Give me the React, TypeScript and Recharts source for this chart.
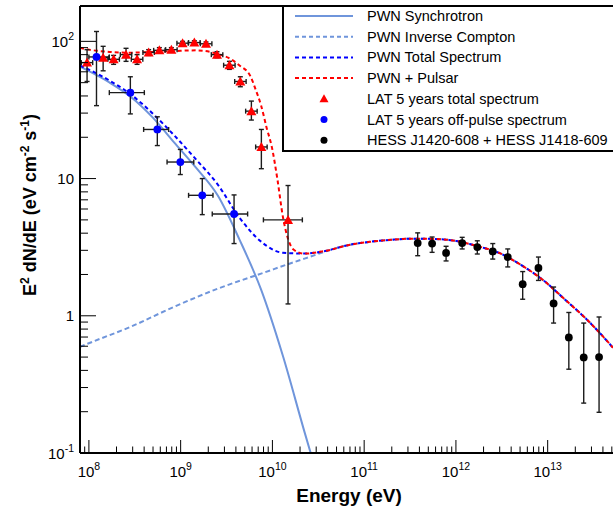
import React from 'react';
import { ComposedChart, Line, Scatter, XAxis, YAxis, ErrorBar } from 'recharts';

const FONT = '"Liberation Sans", Arial, Helvetica, sans-serif';

const X_MIN = 8e7;
const X_MAX = 5.15e13;
const Y_MIN = 0.1;
const Y_MAX = 181;

// model curves: energy (eV) vs E^2 dN/dE (eV cm^-2 s^-1)
const syncEnergy = [8.0e7, 9.66e7, 1.67e8, 2.87e8, 4.95e8, 8.53e8, 1.47e9, 2.54e9, 4.38e9, 7.53e9, 1.3e10, 2.24e10, 2.79e10];
const syncFlux = [65.5, 61.4, 50.2, 39.3, 27.9, 18.3, 12.0, 7.52, 3.59, 1.55, 0.511, 0.142, 0.086];

const icEnergy = [8.0e7, 9.66e7, 2.87e8, 8.53e8, 2.54e9, 7.53e9, 2.24e10, 6.65e10, 1.15e11, 1.98e11, 3.41e11, 5.85e11, 1.01e12, 1.74e12, 3.0e12, 5.16e12, 8.91e12, 1.53e13, 2.65e13, 4.56e13, 5.15e13];
const icFlux = [0.593, 0.625, 0.833, 1.165, 1.576, 2.03, 2.61, 3.27, 3.46, 3.58, 3.65, 3.63, 3.51, 3.21, 2.86, 2.34, 1.82, 1.32, 0.944, 0.642, 0.585];

const totalEnergy = [8.0e7, 9.66e7, 1.67e8, 2.87e8, 4.95e8, 8.53e8, 1.47e9, 2.54e9, 4.38e9, 7.53e9, 1.3e10, 2.24e10, 3.86e10, 6.65e10, 1.15e11, 1.98e11, 3.41e11, 5.85e11, 1.01e12, 1.74e12, 3.0e12, 5.16e12, 8.91e12, 1.53e13, 2.65e13, 4.56e13, 5.15e13];
const totalFlux = [66.5, 63.0, 51.9, 41.0, 29.8, 20.6, 13.8, 9.04, 5.19, 3.47, 2.88, 2.84, 2.98, 3.27, 3.46, 3.58, 3.65, 3.63, 3.51, 3.21, 2.86, 2.34, 1.82, 1.32, 0.944, 0.642, 0.585];

const pulsarEnergy = [8.0e7, 9.66e7, 1.67e8, 2.87e8, 4.95e8, 8.53e8, 1.47e9, 2.54e9, 3.33e9, 4.38e9, 5.74e9, 6.56e9, 7.53e9, 8.63e9, 9.89e9, 1.135e10, 1.3e10, 1.49e10, 1.71e10, 2.24e10, 3.86e10, 6.65e10, 1.15e11, 1.98e11, 3.41e11, 5.85e11, 1.01e12, 1.74e12, 3.0e12, 5.16e12, 8.91e12, 1.53e13, 2.65e13, 4.56e13, 5.15e13];
const pulsarFlux = [89.7, 87.4, 83.8, 82.7, 83.8, 85.0, 86.0, 81.0, 75.8, 66.8, 56.0, 44.6, 34.1, 23.6, 16.8, 9.83, 5.28, 3.59, 3.03, 2.84, 2.98, 3.27, 3.46, 3.58, 3.65, 3.63, 3.51, 3.21, 2.86, 2.34, 1.82, 1.32, 0.944, 0.642, 0.585];

// LAT 5 years total spectrum (red triangles)
const latEnergy = [9.55e7, 1.43e8, 1.86e8, 2.54e8, 3.35e8, 4.48e8, 5.86e8, 7.92e8, 1.05e9, 1.41e9, 1.89e9, 2.49e9, 3.4e9, 4.47e9, 5.9e9, 7.58e9, 1.48e10];
const latELow = [8.27e7, 1.23e8, 1.61e8, 2.2e8, 2.9e8, 3.88e8, 5.08e8, 6.86e8, 9.11e8, 1.22e9, 1.64e9, 2.16e9, 2.94e9, 3.88e9, 5.11e9, 6.57e9, 7.98e9];
const latEHigh = [1.1e8, 1.65e8, 2.15e8, 2.93e8, 3.87e8, 5.17e8, 6.77e8, 9.15e8, 1.21e9, 1.63e9, 2.19e9, 2.88e9, 3.92e9, 5.17e9, 6.82e9, 8.76e9, 2.12e10];
const latFlux = [70, 76, 74, 80, 74, 83, 86, 87, 97, 98, 96, 80, 67, 51, 31, 17, 5.0];
const latFluxLow = [51, 61, 68, 71.5, 68, 79, 82, 84, 94, 95, 93, 76, 62.5, 46.7, 26.7, 11.8, 1.22];
const latFluxHigh = [87, 92, 79, 89, 80, 87, 90, 90, 100, 101, 99, 84, 71.5, 55.2, 36.7, 22.8, 8.9];

// LAT 5 years off-pulse spectrum (blue circles)
const offEnergy = [1.21e8, 2.83e8, 5.57e8, 9.92e8, 1.72e9, 3.82e9];
const offELow = [1.0e8, 1.67e8, 3.95e8, 7.11e8, 1.22e9, 2.21e9];
const offEHigh = [1.67e8, 4.02e8, 7.4e8, 1.39e9, 2.25e9, 5.37e9];
const offFlux = [77, 42.3, 22.8, 13.2, 7.55, 5.52];
const offFluxLow = [34, 29.6, 17.4, 10.7, 5.46, 3.36];
const offFluxHigh = [118, 55.2, 28.2, 16.3, 10, 7.6];

// HESS J1420-608 + HESS J1418-609 (black circles)
const hessEnergy = [3.83e11, 5.5e11, 7.81e11, 1.17e12, 1.71e12, 2.52e12, 3.67e12, 5.34e12, 7.93e12, 1.16e13, 1.7e13, 2.47e13, 3.63e13];
const hessFlux = [3.39, 3.36, 2.87, 3.39, 3.17, 2.94, 2.68, 1.7, 2.23, 1.23, 0.695, 0.497, 0.5];
const hessFluxLow = [2.74, 2.9, 2.51, 3.07, 2.82, 2.59, 2.27, 1.32, 1.81, 0.885, 0.408, 0.231, 0.198];
const hessFluxHigh = [4.02, 3.75, 3.21, 3.73, 3.52, 3.36, 3.07, 2.1, 2.68, 1.62, 1.057, 0.885, 0.98];

// axis ticks (decades + 2..9 minor ticks)
const xDecades = [1e7, 1e8, 1e9, 1e10, 1e11, 1e12, 1e13];
const yDecades = [0.1, 1, 10, 100];
const minorSteps = [1, 2, 3, 4, 5, 6, 7, 8, 9];
const yTickLabels: Record<string, [string, string]> = {
  '0.1': ['10', '-1'],
  '1': ['1', ''],
  '10': ['10', ''],
  '100': ['10', '2'],
};

const xTicks = xDecades.flatMap((d) => minorSteps.map((m) => d * m)).filter((v) => v >= X_MIN && v <= X_MAX);
const yTicks = yDecades.flatMap((d) => minorSteps.map((m) => d * m)).filter((v) => v >= Y_MIN && v <= Y_MAX);

const isDecade = (v: number) => Math.abs(Math.log10(v) - Math.round(Math.log10(v))) < 1e-6;

const toRows = (e: number[], f: number[]) => e.map((x, i) => ({ x, y: f[i] }));

const syncRows = toRows(syncEnergy, syncFlux);
const icRows = toRows(icEnergy, icFlux);
const totalRows = toRows(totalEnergy, totalFlux);
const pulsarRows = toRows(pulsarEnergy, pulsarFlux);

const latRows = latEnergy.map((x, i) => ({
  x,
  y: latFlux[i],
  ex: [x - latELow[i], latEHigh[i] - x],
  ey: [latFlux[i] - latFluxLow[i], latFluxHigh[i] - latFlux[i]],
}));
const offRows = offEnergy.map((x, i) => ({
  x,
  y: offFlux[i],
  ex: [x - offELow[i], offEHigh[i] - x],
  ey: [offFlux[i] - offFluxLow[i], offFluxHigh[i] - offFlux[i]],
}));
const hessRows = hessEnergy.map((x, i) => ({
  x,
  y: hessFlux[i],
  ey: [hessFlux[i] - hessFluxLow[i], hessFluxHigh[i] - hessFlux[i]],
}));

const SYNC_COLOR = '#6f95db';
const ERR_COLOR = '#1c1c1c';

const XTick = (props: any) => {
  const { x, y, payload } = props;
  const v = payload.value;
  const major = isDecade(v);
  const exp = Math.round(Math.log10(v));
  return (
    <g>
      <line x1={x} x2={x} y1={y} y2={y - (major ? 13 : 6.5)} stroke="#000" strokeWidth={1} />
      {major && (
        <text x={x} y={y + 24} textAnchor="middle" fontSize={15} fontFamily={FONT} fill="#000">
          10
          <tspan dy={-7} fontSize={10.5}>
            {exp}
          </tspan>
        </text>
      )}
    </g>
  );
};

const YTick = (props: any) => {
  const { x, y, payload } = props;
  const v = payload.value;
  const major = isDecade(v);
  const label = yTickLabels[String(Math.round(v * 10) / 10)];
  return (
    <g>
      <line x1={x} x2={x + (major ? 16 : 8)} y1={y} y2={y} stroke="#000" strokeWidth={1} />
      {major && label && (
        <text x={x - 6} y={y + 5.5} textAnchor="end" fontSize={15} fontFamily={FONT} fill="#000">
          {label[0]}
          {label[1] && (
            <tspan dy={-7} fontSize={10.5}>
              {label[1]}
            </tspan>
          )}
        </text>
      )}
    </g>
  );
};

const Triangle = (props: any) => {
  const { cx, cy } = props;
  if (cx == null || cy == null) return null;
  return <polygon points={`${cx - 5},${cy + 4} ${cx + 5},${cy + 4} ${cx},${cy - 5}`} fill="#ff0000" />;
};

const Dot = (color: string) => (props: any) => {
  const { cx, cy } = props;
  if (cx == null || cy == null) return null;
  return <circle cx={cx} cy={cy} r={3.9} fill={color} />;
};

const legendRows = [
  { label: 'PWN Synchrotron', kind: 'line', color: SYNC_COLOR, dash: undefined },
  { label: 'PWN Inverse Compton', kind: 'line', color: SYNC_COLOR, dash: '4 3' },
  { label: 'PWN Total Spectrum', kind: 'line', color: '#0000ff', dash: '4 3' },
  { label: 'PWN + Pulsar', kind: 'line', color: '#ff0000', dash: '4 3' },
  { label: 'LAT 5 years total spectrum', kind: 'triangle', color: '#ff0000' },
  { label: 'LAT 5 years off-pulse spectrum', kind: 'circle', color: '#0000ff' },
  { label: 'HESS J1420-608 + HESS J1418-609', kind: 'circle', color: '#000000' },
];

const Overlay = () => (
  <svg width={613} height={506} style={{ position: 'absolute', left: 0, top: 0, pointerEvents: 'none' }}>
    <line x1={80} x2={613} y1={6} y2={6} stroke="#000" strokeWidth={2} />
    <rect x={283} y={6} width={340} height={145} fill="#fff" stroke="#000" strokeWidth={2} />
    {legendRows.map((r, i) => {
      const cy = 16 + i * 20.7;
      return (
        <g key={r.label}>
          {r.kind === 'line' && (
            <line x1={295} x2={353} y1={cy} y2={cy} stroke={r.color} strokeWidth={2} strokeDasharray={r.dash} />
          )}
          {r.kind === 'triangle' && (
            <polygon points={`${319.5},${cy + 3.5} ${328.5},${cy + 3.5} ${324},${cy - 4.5}`} fill={r.color} />
          )}
          {r.kind === 'circle' && <circle cx={324} cy={cy} r={3.5} fill={r.color} />}
          <text x={367} y={cy + 5} fontSize={14.5} fontFamily={FONT} fill="#000">
            {r.label}
          </text>
        </g>
      );
    })}
    <text x={349} y={502} textAnchor="middle" fontSize={19} fontWeight="bold" fontFamily={FONT} fill="#000">
      Energy (eV)
    </text>
    <text
      transform="translate(36,205) rotate(-90)"
      textAnchor="middle"
      fontSize={18}
      fontWeight="bold"
      fontFamily={FONT}
      fill="#000"
    >
      E
      <tspan dy={-7} fontSize={12}>2</tspan>
      <tspan dy={7}> dN/dE (eV cm</tspan>
      <tspan dy={-7} fontSize={12}>-2</tspan>
      <tspan dy={7}> s</tspan>
      <tspan dy={-7} fontSize={12}>-1</tspan>
      <tspan dy={7}>)</tspan>
    </text>
  </svg>
);

export default function App() {
  return (
    <div style={{ position: 'absolute', left: 0, top: 0, width: 613, height: 506, background: '#fff' }}>
      <ComposedChart width={613} height={506} margin={{ top: 6, right: 0, bottom: 0, left: 0 }}>
        <XAxis
          dataKey="x"
          type="number"
          scale="log"
          domain={[X_MIN, X_MAX]}
          allowDataOverflow
          ticks={xTicks}
          interval={0}
          height={53}
          tickSize={0}
          tickMargin={0}
          tickLine={false}
          axisLine={{ stroke: '#000', strokeWidth: 2 }}
          tick={<XTick />}
        />
        <YAxis
          type="number"
          scale="log"
          domain={[Y_MIN, Y_MAX]}
          allowDataOverflow
          ticks={yTicks}
          interval={0}
          width={80}
          tickSize={0}
          tickMargin={0}
          tickLine={false}
          axisLine={{ stroke: '#000', strokeWidth: 2 }}
          tick={<YTick />}
        />
        <Line data={syncRows} dataKey="y" type="monotone" stroke={SYNC_COLOR} strokeWidth={2} dot={false} isAnimationActive={false} />
        <Line data={icRows} dataKey="y" type="monotone" stroke={SYNC_COLOR} strokeWidth={2} strokeDasharray="5 3" dot={false} isAnimationActive={false} />
        <Line data={totalRows} dataKey="y" type="monotone" stroke="#0000ff" strokeWidth={2} strokeDasharray="4 3" dot={false} isAnimationActive={false} />
        <Line data={pulsarRows} dataKey="y" type="monotone" stroke="#ff0000" strokeWidth={2} strokeDasharray="4 3" dot={false} isAnimationActive={false} />
        <Scatter data={latRows} dataKey="y" shape={<Triangle />} isAnimationActive={false}>
          <ErrorBar dataKey="ex" direction="x" width={2.5} stroke={ERR_COLOR} strokeWidth={1.4} />
          <ErrorBar dataKey="ey" direction="y" width={2.5} stroke={ERR_COLOR} strokeWidth={1.4} />
        </Scatter>
        <Scatter data={offRows} dataKey="y" shape={Dot('#0000ff')} isAnimationActive={false}>
          <ErrorBar dataKey="ex" direction="x" width={2.5} stroke={ERR_COLOR} strokeWidth={1.4} />
          <ErrorBar dataKey="ey" direction="y" width={2.5} stroke={ERR_COLOR} strokeWidth={1.4} />
        </Scatter>
        <Scatter data={hessRows} dataKey="y" shape={Dot('#000000')} isAnimationActive={false}>
          <ErrorBar dataKey="ey" direction="y" width={2.5} stroke={ERR_COLOR} strokeWidth={1.4} />
        </Scatter>
      </ComposedChart>
      <Overlay />
    </div>
  );
}
